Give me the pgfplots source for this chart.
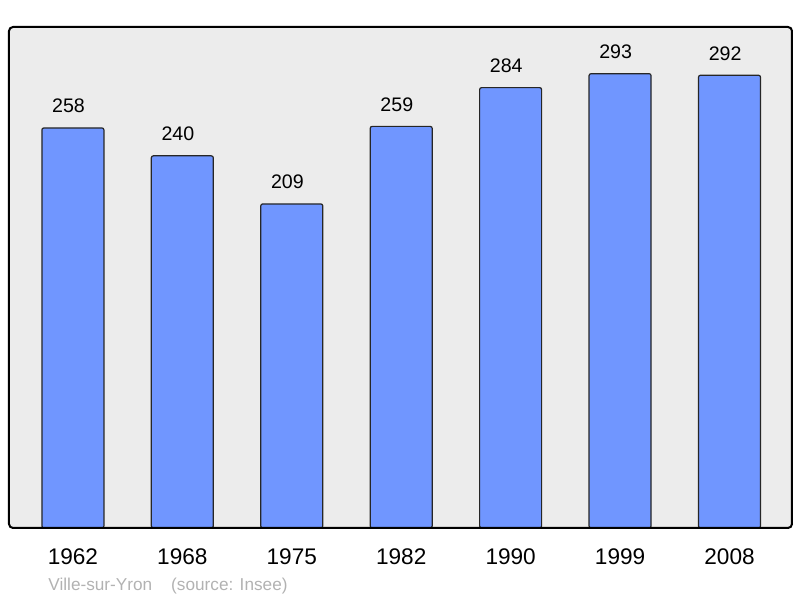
\documentclass[border=0pt]{standalone}
\usepackage{pgfplots}
\pgfplotsset{compat=1.18}
\usepackage{fontspec}
\setmainfont{Liberation Sans}
\definecolor{barfill}{RGB}{112,150,255}
\definecolor{bg}{RGB}{236,236,236}
\begin{document}
\begin{tikzpicture}
\path[use as bounding box] (-4.5pt,-35pt) rectangle (395.5pt,264pt);
\begin{axis}[
 name=ax, at={(0,0)}, anchor=south west, scale only axis,
 width=391.5pt, height=250.5pt,
 xmin=-0.584, xmax=6.571, ymin=0, ymax=323.1,
 axis line style={draw=none},
 axis background/.style={fill=bg},
 ytick=\empty,
 xtick={0,...,6}, xticklabels={1962,1968,1975,1982,1990,1999,2008},
 major tick length=0pt,
 xticklabel style={anchor=base, yshift=-18.5pt, font=\fontsize{11.3}{13}\selectfont},
 ybar, bar width=31pt,
 /pgf/number format/assume math mode=true,
 nodes near coords,
 every node near coord/.append style={anchor=base, yshift=7.5pt, xshift=-2.2pt, font=\fontsize{9.8}{12}\selectfont, text=black},
 clip=false,
]
\addplot[fill=barfill, draw=black!85, line width=0.6pt, rounded corners=1pt, bar shift=0pt] coordinates {(0,258)(1,240)(2,209)(3,259)(4,284)(5,293)(6,292)};
\end{axis}
\draw[line width=1pt, rounded corners=2pt] (ax.south west) rectangle (ax.north east);
\node[anchor=base west, text=gray!60, font=\fontsize{8.6}{10}\selectfont, inner sep=0pt] at (19.5pt,-31.35pt) {Ville-sur-Yron\hspace{9.5pt}(source: Insee)};
\end{tikzpicture}
\end{document}
